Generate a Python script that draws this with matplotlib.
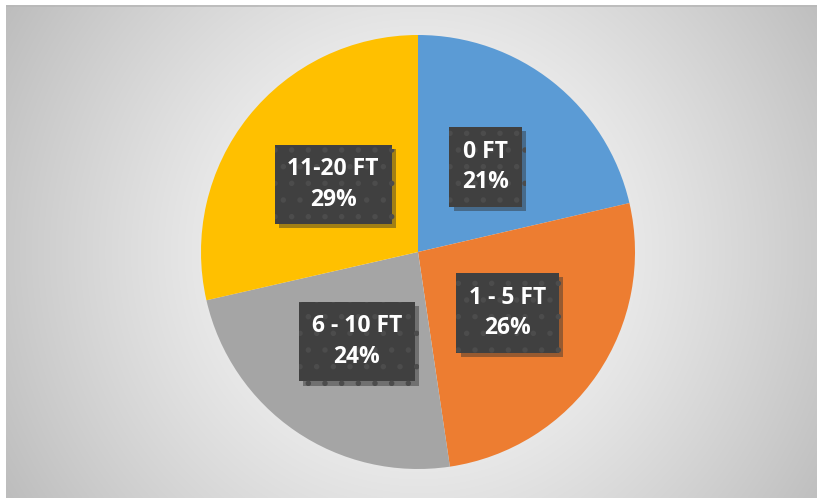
import numpy as np
import matplotlib
matplotlib.use("Agg")
import matplotlib.pyplot as plt
import matplotlib.patheffects as pe

# data
categories = ["0 FT", "1 - 5 FT", "6 - 10 FT", "11-20 FT"]
shares = [21.4, 26.3, 23.8, 28.6]
colors = ["#5b9bd5", "#ed7d31", "#a5a5a5", "#ffc000"]

W, H = 817, 498
fig = plt.figure(figsize=(W / 100, H / 100), dpi=100)
fig.patch.set_facecolor("white")

# radial gray background panel
bg = fig.add_axes([6 / W, 0, 1 - 6 / W, 1 - 5 / H])
bg.set_axis_off()
ny, nx = 493, 811
yy, xx = np.mgrid[0:ny, 0:nx]
cx, cy = 412, 247
r = np.hypot(xx - cx, yy - cy) / np.hypot(cx, cy)
g = 1.0 - 0.26 * np.clip(r, 0, 1.2) ** 1.3
bg.imshow(np.dstack([g, g, g]), aspect="auto", interpolation="bilinear")
bg.axhline(0.5, color="#b8b8b8", lw=1.2)

# pie, in pixel-like coordinates with y going up
ax = fig.add_axes([0, 0, 1, 1])
ax.set_axis_off()

wedges, texts, autotexts = ax.pie(
    shares, colors=colors, startangle=90, counterclock=False,
    center=(418, H - 252), radius=217, autopct="%.0f%%", pctdistance=0.5,
    wedgeprops=dict(linewidth=0), frame=True)
ax.set_xlim(0, W)
ax.set_ylim(0, H)
ax.set_aspect("equal")
ax.set_axis_off()

plt.rcParams["hatch.linewidth"] = 1.5
for cat, t in zip(categories, autotexts):
    t.set_text(f"{cat}\n{t.get_text()}")
    t.set_family(["Open Sans", "DejaVu Sans"])
    t.set_fontweight("bold")
    t.set_fontsize(16.5)
    t.set_color("white")
    t.set_linespacing(1.35)
    t.set_ha("center")
    t.set_va("center")
    t.set_bbox(dict(boxstyle="square,pad=0.55", facecolor="#404040",
                    edgecolor="#4c4c4c", linewidth=0, hatch="."))
    t.get_bbox_patch().set_path_effects([
        pe.SimplePatchShadow(offset=(3, -3), shadow_rgbFace="#303030", alpha=0.45),
        pe.Normal()])

fig.savefig("out.png", dpi=100)
